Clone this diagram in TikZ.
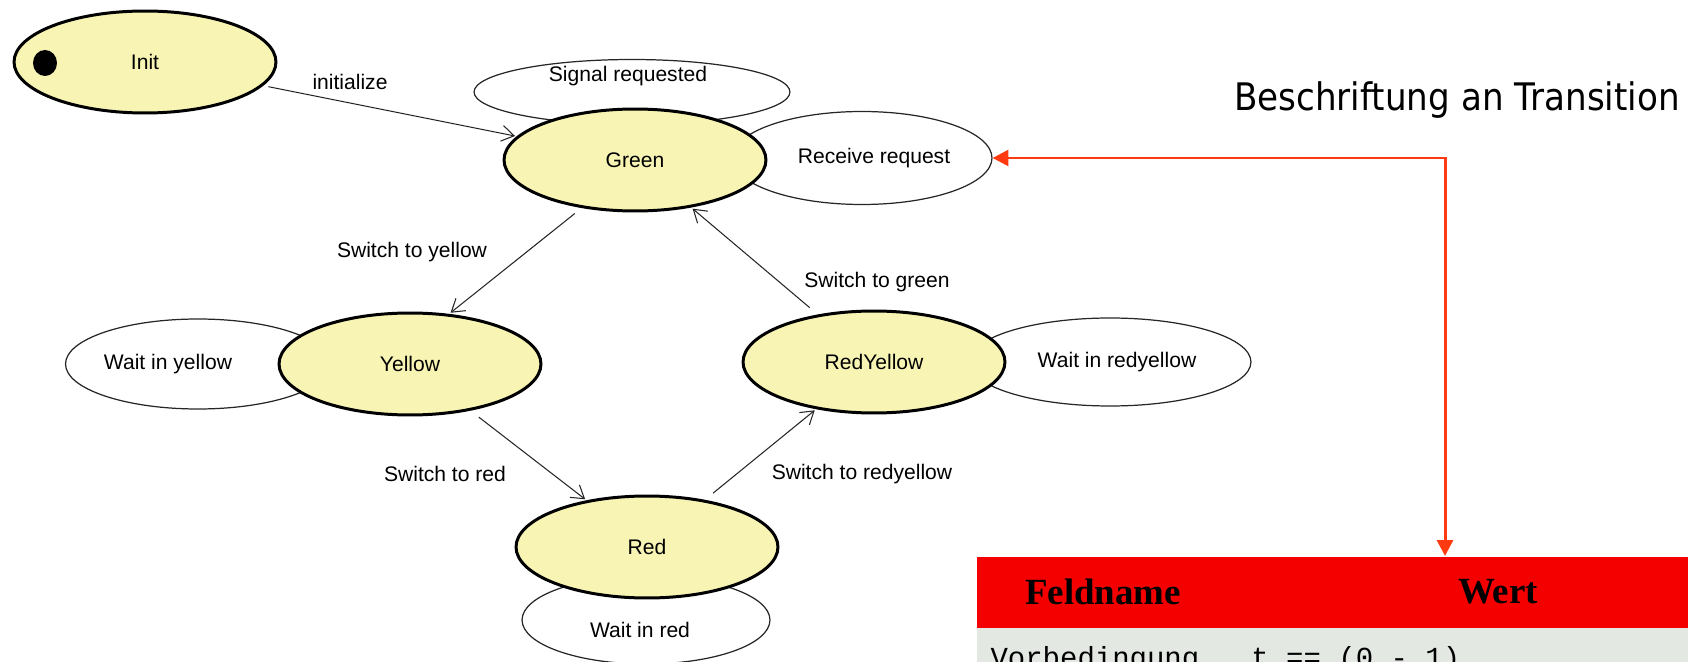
\documentclass[tikz,border=0pt]{standalone}
\usepackage{fontspec}
\setmainfont{Liberation Sans}
\newfontfamily\notefont[FakeStretch=0.9]{DejaVu Sans}
\newfontfamily\tabserif{Liberation Serif}
\newfontfamily\tabmono{Liberation Mono}
\usetikzlibrary{shapes.geometric,arrows.meta}
\definecolor{stateyellow}{HTML}{F8F4B4}
\definecolor{hintred}{HTML}{FF3A10}
\definecolor{headred}{HTML}{F40000}
\definecolor{rowgray}{HTML}{E3E8E3}

\begin{document}
\begin{tikzpicture}[x=0.02cm,y=-0.02cm,line width=0.6pt,draw=black!85,>={Straight Barb[length=7pt,width=9pt]}]
    \tikzstyle{state}=[ellipse,draw=black,line width=1.7pt,fill=stateyellow,minimum width=5.24cm,minimum height=2.04cm,inner sep=0pt,font=\fontsize{12}{14}\selectfont]
    \tikzstyle{loop}=[ellipse,draw,line width=0.7pt,inner sep=0pt]
    \tikzstyle{loop text}=[font=\fontsize{12}{14}\selectfont]
    \tikzstyle{trans}=[->,shorten >=1pt,shorten <=3pt]
    \tikzstyle{trans label}=[font=\fontsize{12}{14}\selectfont]
    \tikzstyle{hint}=[draw=hintred,line width=1.7pt,{Triangle[length=9pt,width=9pt]}-{Triangle[length=9pt,width=9pt]}]
    \tikzstyle{head text}=[font=\tabserif\bfseries\fontsize{21}{24}\selectfont]

    \useasboundingbox (0,0) rectangle (1688,662);
    \begin{scope}
    \clip (0,0) rectangle (1688,662);

    % Draw the self loops first, the states cover them
    \node[loop,minimum width=6.32cm,minimum height=1.3cm] (L-green-1) at (632,92) {};
    \node[loop,minimum width=5.2cm,minimum height=1.86cm] (L-green-2) at (862,158) {};
    \node[loop,minimum width=5.3cm,minimum height=1.8cm] (L-yellow) at (198,364) {};
    \node[loop,minimum width=5.64cm,minimum height=1.76cm] (L-redyellow) at (1110,362) {};
    \node[loop,minimum width=4.96cm,minimum height=1.76cm] (L-red) at (646,620) {};

    % Draw the states
    \node[state] (Init) at (145,62) {Init};
    \node[ellipse,fill=black,minimum width=0.48cm,minimum height=0.52cm,inner sep=0pt] (Init-dot) at (45,63) {};
    \node[state] (Green) at (635,160) {Green};
    \node[state] (Yellow) at (410,364) {Yellow};
    \node[state] (RedYellow) at (874,362) {RedYellow};
    \node[state] (Red) at (647,547) {Red};

    % Texts of the self loops
    \node[loop text] at (628,76) {Signal requested};
    \node[loop text] at (874,158) {Receive request};
    \node[loop text] at (168,364) {Wait in yellow};
    \node[loop text] at (1117,362) {Wait in redyellow};
    \node[loop text] at (640,630) {Wait in red};

    % Connect the states
    \path (Init) edge[trans] (Green);
    \path (Green.222) edge[trans,shorten <=5pt] (Yellow.52);
    \path (Yellow) edge[trans,shorten <=6pt] (Red);
    \path (Red) edge[trans,shorten <=6pt] (RedYellow);
    \path (RedYellow) edge[trans,shorten <=6pt] (Green);

    % Annotate the transitions
    \node[trans label] at (350,82) {initialize};
    \node[trans label] at (412,252) {Switch to yellow};
    \node[trans label] at (445,474) {Switch to red};
    \node[trans label] at (862,474) {Switch to redyellow};
    \node[trans label] at (877,282) {Switch to green};

    % Note and table
    \node[font=\notefont\fontsize{21.6}{24}\selectfont] (note) at (1457,100) {Beschriftung an Transition};
    \node[fill=headred,anchor=north west,minimum width=14.3cm,minimum height=1.42cm,inner sep=0pt] (head) at (976,556) {};
    \node[fill=rowgray,anchor=north west,minimum width=14.3cm,minimum height=0.8cm,inner sep=0pt] (row) at (976,627) {};
    \node[head text] (feld) at (1103,592) {Feldname};
    \node[head text] (wert) at (1498,592) {Wert};
    \node[anchor=base west,inner sep=0pt,font=\tabmono\fontsize{16.5}{18}\selectfont] (vorb) at (990,667) {Vorbedingung\ \ \ t == (0 - 1)};

    \coordinate (bend) at (1445,158);
    \draw[hint] (L-green-2.east) -| (bend |- head.north);
    \end{scope}
\end{tikzpicture}
\end{document}
